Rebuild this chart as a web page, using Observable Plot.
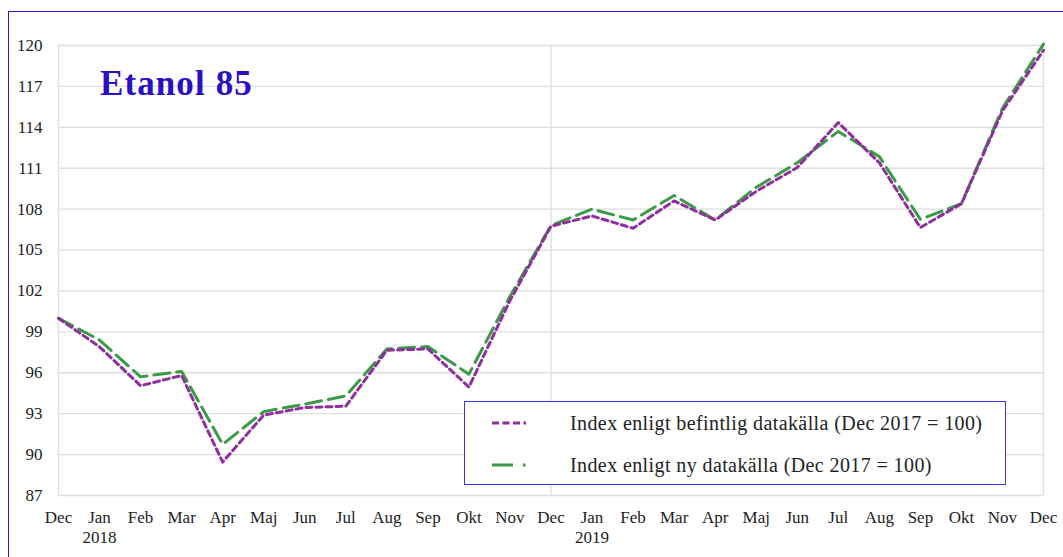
<!DOCTYPE html>
<html>
<head>
<meta charset="utf-8">
<script src="https://cdn.jsdelivr.net/npm/d3@7"></script>
<script src="https://cdn.jsdelivr.net/npm/@observablehq/plot@0.6"></script>
<style>
  html, body { margin: 0; padding: 0; background: #fff; }
  #wrap { position: relative; width: 1063px; height: 557px; overflow: hidden; font-family: "Liberation Serif", serif; }
  #frame { position: absolute; left: 8px; top: 11px; width: 1200px; height: 700px; border: 1.5px solid #2f17c4; box-sizing: border-box; }
  #title { position: absolute; left: 100px; top: 66px; font: bold 35px/35px "Liberation Serif", serif; letter-spacing: 1.1px; color: #2a10c0; white-space: nowrap; }
  #legend { position: absolute; left: 464px; top: 401px; width: 542px; height: 84px; border: 1.5px solid #3a3ad8; box-sizing: border-box; background: #fff; }
  .lrow { position: absolute; left: 0; height: 30px; width: 100%; }
  .lrow svg { position: absolute; left: 26px; top: 0; }
  .lrow span { position: absolute; left: 105px; top: 1px; font: 20px/24px "Liberation Serif", serif; letter-spacing: 0.4px; color: #222; white-space: nowrap; }
  #chart { position: absolute; left: 0; top: 0; }
</style>
</head>
<body>
<div id="wrap">
  <div id="frame"></div>
  <div id="chart"></div>
  <div id="title"></div>
  <div id="legend"></div>
</div>
<script>
// ---- data ----
const monthLabels = ["Dec","Jan","Feb","Mar","Apr","Maj","Jun","Jul","Aug","Sep","Okt","Nov","Dec",
                     "Jan","Feb","Mar","Apr","Maj","Jun","Jul","Aug","Sep","Okt","Nov","Dec"];
const yearLabels = {1: "2018", 13: "2019"};
const befintlig = [100.0, 97.9, 95.05, 95.8, 89.45, 92.9, 93.45, 93.55, 97.65, 97.75, 94.95, 101.3,
                   106.75, 107.5, 106.6, 108.6, 107.2, 109.3, 111.05, 114.35, 111.4, 106.65, 108.4, 115.2, 119.65];
const ny = [100.0, 98.4, 95.7, 96.1, 90.75, 93.15, 93.7, 94.3, 97.75, 97.92, 95.9, 101.6,
            106.8, 108.0, 107.2, 109.0, 107.2, 109.6, 111.4, 113.7, 111.85, 107.25, 108.4, 115.4, 120.1];
const yTicks = [87, 90, 93, 96, 99, 102, 105, 108, 111, 114, 117, 120];
const seriesNames = ["Index enligt befintlig datakälla (Dec 2017 = 100)", "Index enligt ny datakälla (Dec 2017 = 100)"];
const titleText = "Etanol 85";

const purple = "#8e2f9e";
const green = "#3b9a47";
const gridColor = "#dedede";

const idx = d3.range(monthLabels.length);

const chart = Plot.plot({
  width: 1063,
  height: 557,
  marginLeft: 58,
  marginRight: 20,
  marginTop: 45,
  marginBottom: 62,
  x: {type: "linear", domain: [0, monthLabels.length - 1], axis: null},
  y: {domain: [87, 120], axis: null},
  style: {fontFamily: "Liberation Serif, serif", fontSize: "17px", color: "#222", background: "transparent"},
  marks: [
    Plot.gridY(yTicks, {stroke: gridColor, strokeOpacity: 1, strokeWidth: 1.3}),
    Plot.ruleX([0, 12, 24], {stroke: gridColor, strokeOpacity: 1, strokeWidth: 1.3}),
    Plot.axisY(yTicks, {tickSize: 0, tickPadding: 16, fontSize: 17, fill: "#222"}),
    Plot.axisX(idx, {
      tickSize: 0, tickPadding: 13, fontSize: 17, fill: "#222", lineHeight: 1.2,
      tickFormat: i => monthLabels[i] + (yearLabels[i] ? "\n" + yearLabels[i] : "")
    }),
    Plot.line(ny, {x: (d, i) => i, y: d => d, stroke: green, strokeWidth: 3, strokeDasharray: "16,7"}),
    Plot.line(befintlig, {x: (d, i) => i, y: d => d, stroke: purple, strokeWidth: 3, strokeDasharray: "6,4"})
  ]
});
document.getElementById("chart").appendChild(chart);
document.getElementById("title").textContent = titleText;

// legend
const legend = document.getElementById("legend");
const styles = [
  {color: purple, dash: "7,3.5", top: 8},
  {color: green, dash: "21,10,2.5,10", top: 50}
];
seriesNames.forEach((name, k) => {
  const row = document.createElement("div");
  row.className = "lrow";
  row.style.top = styles[k].top + "px";
  const svg = d3.create("svg").attr("width", 40).attr("height", 30);
  svg.append("line").attr("x1", 1).attr("x2", 35).attr("y1", 13).attr("y2", 13)
    .attr("stroke", styles[k].color).attr("stroke-width", 3).attr("stroke-dasharray", styles[k].dash);
  row.appendChild(svg.node());
  const span = document.createElement("span");
  span.textContent = name;
  row.appendChild(span);
  legend.appendChild(row);
});
</script>
</body>
</html>
